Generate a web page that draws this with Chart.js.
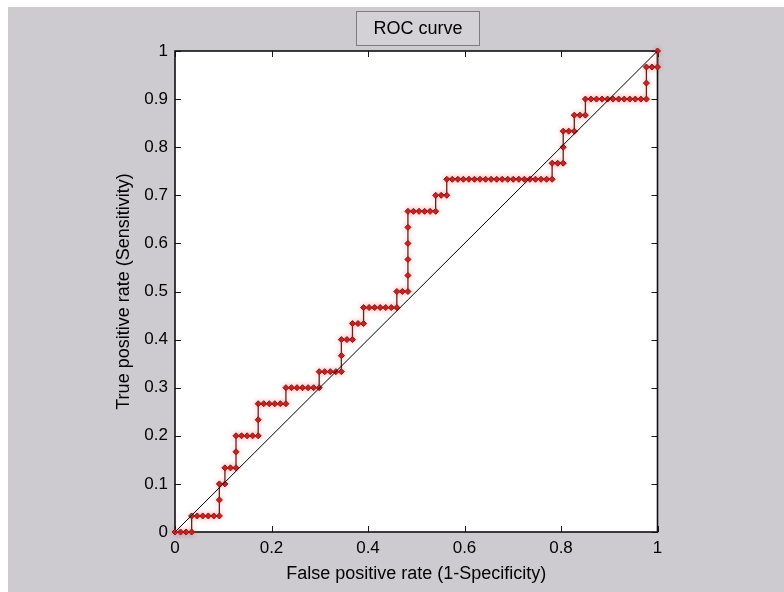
<!DOCTYPE html>
<html>
<head>
<meta charset="utf-8">
<title>ROC curve</title>
<script src="https://cdn.jsdelivr.net/npm/chart.js@4.4.1/dist/chart.umd.min.js"></script>
<style>
  html, body { margin: 0; padding: 0; background: #ffffff; }
  #wrap { position: absolute; left: 0; top: 0; width: 784px; height: 592px; }
</style>
</head>
<body>
<div id="wrap"><canvas id="roc" width="784" height="592"></canvas></div>
<script>
// Class totals of the evaluated sample
const totalNegatives = 87;
const totalPositives = 30;

// Cumulative counts at each threshold step: false positives and true positives
const falsePositiveCounts = [
  0, 1, 2, 3,
  3, 4, 5, 6, 7, 8,
  8,
  8, 9,
  9, 10, 11,
  11,
  11, 12, 13, 14, 15,
  15,
  15, 16, 17, 18, 19, 20,
  20, 21, 22, 23, 24, 25, 26,
  26, 27, 28, 29, 30,
  30,
  30, 31, 32,
  32, 33, 34,
  34, 35, 36, 37, 38, 39, 40,
  40, 41, 42,
  42, 42, 42, 42,
  42, 43, 44, 45, 46, 47,
  47, 48, 49,
  49, 50, 51, 52, 53, 54, 55, 56, 57, 58, 59, 60, 61, 62, 63, 64, 65, 66, 67, 68,
  68, 69, 70,
  70,
  70, 71, 72,
  72, 73, 74,
  74, 75, 76, 77, 78, 79, 80, 81, 82, 83, 84, 85,
  85,
  85, 86, 87,
  87
];
const truePositiveCounts = [
  0, 0, 0, 0,
  1, 1, 1, 1, 1, 1,
  2,
  3, 3,
  4, 4, 4,
  5,
  6, 6, 6, 6, 6,
  7,
  8, 8, 8, 8, 8, 8,
  9, 9, 9, 9, 9, 9, 9,
  10, 10, 10, 10, 10,
  11,
  12, 12, 12,
  13, 13, 13,
  14, 14, 14, 14, 14, 14, 14,
  15, 15, 15,
  16, 17, 18, 19,
  20, 20, 20, 20, 20, 20,
  21, 21, 21,
  22, 22, 22, 22, 22, 22, 22, 22, 22, 22, 22, 22, 22, 22, 22, 22, 22, 22, 22, 22,
  23, 23, 23,
  24,
  25, 25, 25,
  26, 26, 26,
  27, 27, 27, 27, 27, 27, 27, 27, 27, 27, 27, 27,
  28,
  29, 29, 29,
  30
];

// Chance line end points
const chanceX = [0, 1];
const chanceY = [0, 1];

// Axis tick values
const xTickValues = [0, 0.2, 0.4, 0.6, 0.8, 1];
const yTickValues = [0, 0.1, 0.2, 0.3, 0.4, 0.5, 0.6, 0.7, 0.8, 0.9, 1];

const rocPoints = falsePositiveCounts.map((fp, i) => ({
  x: fp / totalNegatives,
  y: truePositiveCounts[i] / totalPositives
}));
const chancePoints = chanceX.map((x, i) => ({ x: x, y: chanceY[i] }));

const FONT = "'Liberation Sans', Arial, Helvetica, sans-serif";
const FIG_BG = '#cdcbd0';
const tickText = v => String(Number(Number(v).toFixed(2)));

// Figure background, white axes face, boxed title and inward tick marks
const figurePlugin = {
  id: 'figure',
  beforeDraw(chart) {
    const ctx = chart.ctx;
    const a = chart.chartArea;
    ctx.save();
    ctx.fillStyle = '#ffffff';
    ctx.fillRect(0, 0, chart.width, chart.height);
    ctx.fillStyle = FIG_BG;
    ctx.fillRect(8, 7, chart.width - 8, chart.height - 7);
    ctx.fillStyle = '#ffffff';
    ctx.fillRect(a.left, a.top, a.right - a.left, a.bottom - a.top);

    // title box
    const tw = 123, th = 34;
    const cx = (a.left + a.right) / 2 + 1;
    const bx = Math.round(cx - tw / 2) + 0.5, by = 11.5;
    ctx.fillStyle = '#d3d1d5';
    ctx.fillRect(bx, by, tw, th);
    ctx.strokeStyle = '#7d7d7d';
    ctx.lineWidth = 1;
    ctx.strokeRect(bx, by, tw, th);
    ctx.fillStyle = '#000000';
    ctx.font = '18px ' + FONT;
    ctx.textAlign = 'center';
    ctx.textBaseline = 'middle';
    ctx.fillText('ROC curve', bx + tw / 2, by + th / 2 + 1);
    ctx.restore();
  },
  beforeDatasetsDraw(chart) {
    const ctx = chart.ctx;
    const a = chart.chartArea;
    const xs = chart.scales.x, ys = chart.scales.y;
    const len = 6;
    ctx.save();
    ctx.strokeStyle = '#1a1a1a';
    ctx.lineWidth = 1;
    ctx.beginPath();
    xs.ticks.forEach(t => {
      const px = Math.round(xs.getPixelForValue(t.value)) + 0.5;
      ctx.moveTo(px, a.bottom); ctx.lineTo(px, a.bottom - len);
      ctx.moveTo(px, a.top); ctx.lineTo(px, a.top + len);
    });
    ys.ticks.forEach(t => {
      const py = Math.round(ys.getPixelForValue(t.value)) + 0.5;
      ctx.moveTo(a.left, py); ctx.lineTo(a.left + len, py);
      ctx.moveTo(a.right, py); ctx.lineTo(a.right - len, py);
    });
    ctx.stroke();
    ctx.lineWidth = 1.6;
    ctx.strokeStyle = '#111111';
    ctx.strokeRect(a.left, a.top, a.right - a.left, a.bottom - a.top);
    ctx.restore();
  },
  beforeDatasetDraw(chart, args) {
    if (args.index === 1) {
      chart.ctx.save();
      chart.ctx.shadowColor = 'rgba(255, 60, 60, 0.35)';
      chart.ctx.shadowBlur = 5;
    }
  },
  afterDatasetDraw(chart, args) {
    if (args.index === 1) chart.ctx.restore();
  }
};

new Chart(document.getElementById('roc'), {
  type: 'scatter',
  data: {
    datasets: [
      {
        label: 'chance',
        data: chancePoints,
        showLine: true,
        borderColor: '#000000',
        borderWidth: 1,
        pointRadius: 0,
        pointHoverRadius: 0
      },
      {
        label: 'ROC',
        data: rocPoints,
        showLine: true,
        borderColor: '#5e2626',
        borderWidth: 1.3,
        pointStyle: 'rectRot',
        pointRadius: 3,
        pointBackgroundColor: '#cc1f1f',
        pointBorderColor: '#7a1e1e',
        pointBorderWidth: 1,
        clip: 8
      }
    ]
  },
  options: {
    responsive: false,
    animation: false,
    devicePixelRatio: 1,
    layout: { padding: { left: 110, right: 126.5, top: 51, bottom: 7 } },
    plugins: {
      legend: { display: false },
      tooltip: { enabled: false },
      title: { display: false }
    },
    scales: {
      x: {
        type: 'linear',
        min: 0,
        max: 1,
        afterBuildTicks: s => { s.ticks = xTickValues.map(v => ({ value: v })); },
        afterFit: s => { s.height = 53; },
        grid: { display: false, drawTicks: false },
        border: { display: false },
        ticks: { color: '#000000', padding: 6, font: { family: FONT, size: 17 }, maxRotation: 0, callback: tickText },
        title: {
          display: true,
          text: 'False positive rate (1-Specificity)',
          color: '#000000',
          font: { family: FONT, size: 18 },
          padding: { top: 0, bottom: 0.2 }
        }
      },
      y: {
        type: 'linear',
        min: 0,
        max: 1,
        afterBuildTicks: s => { s.ticks = yTickValues.map(v => ({ value: v })); },
        afterFit: s => { s.width = 65; },
        grid: { display: false, drawTicks: false },
        border: { display: false },
        ticks: { color: '#000000', padding: 7, font: { family: FONT, size: 17 }, callback: tickText },
        title: {
          display: true,
          text: 'True positive rate (Sensitivity)',
          color: '#000000',
          font: { family: FONT, size: 18 },
          padding: { top: 3.2, bottom: 0 }
        }
      }
    }
  },
  plugins: [figurePlugin]
});
</script>
</body>
</html>
